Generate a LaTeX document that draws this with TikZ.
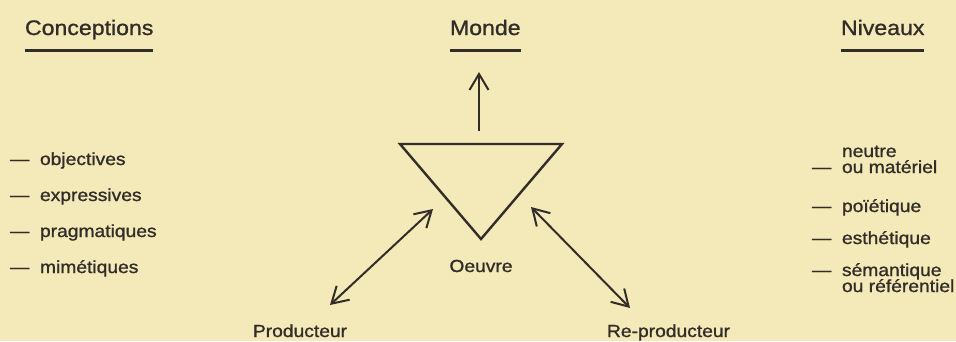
\documentclass[tikz,border=0pt]{standalone}
\usepackage{fontspec}
\setmainfont{Liberation Sans}[FakeStretch=1.1, FakeBold=1.1]
\usetikzlibrary{arrows.meta,calc}
\definecolor{paper}{RGB}{244,233,184}
\definecolor{ink}{RGB}{50,45,40}
\begin{document}
\begin{tikzpicture}[x=1pt,y=-1pt,
  every node/.style={text=ink, inner sep=0pt, outer sep=0pt},
  head/.style={font=\fontsize{21}{25}\selectfont, anchor=base west},
  item/.style={font=\fontsize{17.5}{20}\selectfont, anchor=base west},
  rulebar/.style={draw=ink, line width=3pt},
  link/.style={draw=ink, line width=2pt, -{Straight Barb[length=16pt,width=19pt]}},
  twoway/.style={draw=ink, line width=2pt, {Straight Barb[length=16pt,width=19pt]}-{Straight Barb[length=16pt,width=19pt]}},
  edge3/.style={draw=ink, line width=2.4pt, line join=miter},
]
\fill[paper] (0,0) rectangle (956,341);
\useasboundingbox (0,0) rectangle (956,341);

% column headings, underlined
\node[head] (conc) at (25,35) {Conceptions};
\node[head] (monde) at (450,35) {Monde};
\node[head] (niv) at (841,35) {Niveaux};
\foreach \h in {conc,monde,niv}
  \draw[rulebar] ($(\h.base west)+(0,15)$) -- ($(\h.base east)+(0,15)$);

% left list
\node[item] (obj) at (10,165) {\makebox[30pt][l]{—}objectives};
\node[item] (expr) at (10,201) {\makebox[30pt][l]{—}expressives};
\node[item] (prag) at (10,237) {\makebox[30pt][l]{—}pragmatiques};
\node[item] (mim) at (10,273) {\makebox[30pt][l]{—}mimétiques};

% right list
\node[item] (neuA) at (842,157) {neutre};
\node[item] (neuB) at (812,173) {\makebox[30pt][l]{—}ou matériel};
\node[item] (poi) at (812,212) {\makebox[30pt][l]{—}poïétique};
\node[item] (est) at (812,244) {\makebox[30pt][l]{—}esthétique};
\node[item] (semA) at (812,276) {\makebox[30pt][l]{—}sémantique};
\node[item] (semB) at (842,292) {ou référentiel};

% the work, as a downward triangle
\coordinate (tl) at (400,144);
\coordinate (tr) at (562,144);
\coordinate (tb) at (481,239);
\draw[edge3] (tl) -- (tr) -- (tb) -- cycle;
\node[item, anchor=base] (oeuvre) at (481,272) {Oeuvre};

% poles
\node[item, anchor=base] (prod) at (300,337) {Producteur};
\node[item, anchor=base west] (reprod) at (607,337) {Re-producteur};

% arrows
\coordinate (upFoot) at (479,131);
\coordinate (upTip) at (479,72);
\draw[link] (upFoot) -- (upTip);
\coordinate (pTri) at (433,209);
\coordinate (pEnd) at (330,305);
\draw[twoway] (pTri) -- (pEnd);
\coordinate (rTri) at (531,207);
\coordinate (rEnd) at (630,308);
\draw[twoway] (rTri) -- (rEnd);
\end{tikzpicture}
\end{document}
